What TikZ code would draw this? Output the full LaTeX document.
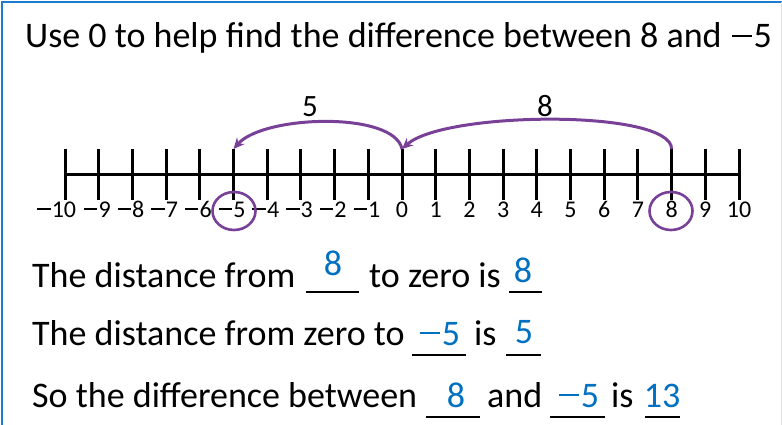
\documentclass[tikz,border=0pt]{standalone}
\usepackage{fontspec}
\setmainfont{Carlito}
\usetikzlibrary{arrows.meta,shapes.geometric}
\definecolor{ansblue}{RGB}{0,112,192}
\definecolor{arcpurple}{RGB}{120,64,150}
\definecolor{frameblue}{RGB}{30,123,208}
\newcommand\mns{\hspace{0.05em}\raisebox{0.3em}{\rule{0.56em}{0.06em}}\hspace{0.05em}}
\tikzset{
  txt/.style={anchor=base west,inner sep=0pt,font=\fontsize{36}{40}\selectfont},
  ans/.style={anchor=base,inner sep=0pt,text=ansblue,font=\fontsize{36}{40}\selectfont},
  numlab/.style={anchor=base,inner sep=0pt,font=\fontsize{24}{27}\selectfont},
  jumplab/.style={anchor=base,inner sep=0pt,font=\fontsize{31}{34}\selectfont},
  tick/.style={line width=3pt},
  blank/.style={line width=1.4pt},
  jump/.style={arcpurple,line width=3pt,-{Stealth[length=11pt,width=10pt]}},
  ring/.style={draw=arcpurple,line width=2.6pt,ellipse,minimum width=43pt,minimum height=38pt,inner sep=0pt}
}
\begin{document}
\begin{tikzpicture}[x=1pt,y=-1pt]
\useasboundingbox (0,0) rectangle (782,425);
% frame
\draw[frameblue,line width=2pt] (2,425) -- (2,2) -- (782,2);
\draw[black!12,line width=1pt] (781,2) -- (781,425);
% title
\node[txt] (title) at (25,48) {Use 0 to help find the difference between 8 and \mns5};
% number line
\coordinate (nlL) at (65,175);
\coordinate (nlR) at (739,175);
\draw[line width=3pt] (nlL) -- (nlR);
\foreach \i in {-10,...,10} {
  \pgfmathsetmacro{\xx}{402+33.7*\i}
  \coordinate (t\i) at (\xx,149);
  \coordinate (b\i) at (\xx,200);
  \draw[tick] (t\i) -- (b\i);
}
\foreach \i in {-9,...,-1} {
  \pgfmathsetmacro{\xx}{400+33.7*\i}
  \node[numlab] (lab\i) at (\xx,217) {\mns\the\numexpr-\i\relax};
}
\node[numlab] (lab-10) at (56,217) {\mns10};
\foreach \i in {0,...,10} {
  \pgfmathsetmacro{\xx}{402+33.7*\i}
  \node[numlab] (lab\i) at (\xx,217) {\i};
}
% rings
\node[ring] (ringA) at (234,211) {};
\node[ring] (ringB) at (671,211) {};
% jumps
\draw[jump] (t8) .. controls +(0,-40) and +(42,-38) .. (t0);
\draw[jump] (t0) .. controls +(-8,-38) and +(30,-34) .. (t-5);
\node[jumplab] (j5) at (310,117) {5};
\node[jumplab] (j8) at (545,117) {8};
% sentence 1
\node[txt] (s1a) at (32,287) {The distance from};
\draw[blank] (306,292) -- (359,292);
\node[ans] (s1b) at (333,275) {8};
\node[txt] (s1c) at (369,287) {to zero is};
\draw[blank] (509,292) -- (542,292);
\node[ans] (s1d) at (523,282) {8};
% sentence 2
\node[txt] (s2a) at (32,345) {The distance from zero to};
\draw[blank] (412,355) -- (466,355);
\node[ans] (s2b) at (439,345) {\mns5};
\node[txt] (s2c) at (474,345) {is};
\draw[blank] (506,355) -- (541,355);
\node[ans] (s2d) at (524,343) {5};
% sentence 3
\node[txt] (s3a) at (32,407) {So the difference between};
\draw[blank] (426,417) -- (480,417);
\node[ans] (s3b) at (456,407) {8};
\node[txt] (s3c) at (487,407) {and};
\draw[blank] (550,417) -- (605,417);
\node[ans] (s3d) at (578,407) {\mns5};
\node[txt] (s3e) at (611,407) {is};
\draw[blank] (645,417) -- (680,417);
\node[ans] (s3f) at (662,407) {13};
\end{tikzpicture}
\end{document}
